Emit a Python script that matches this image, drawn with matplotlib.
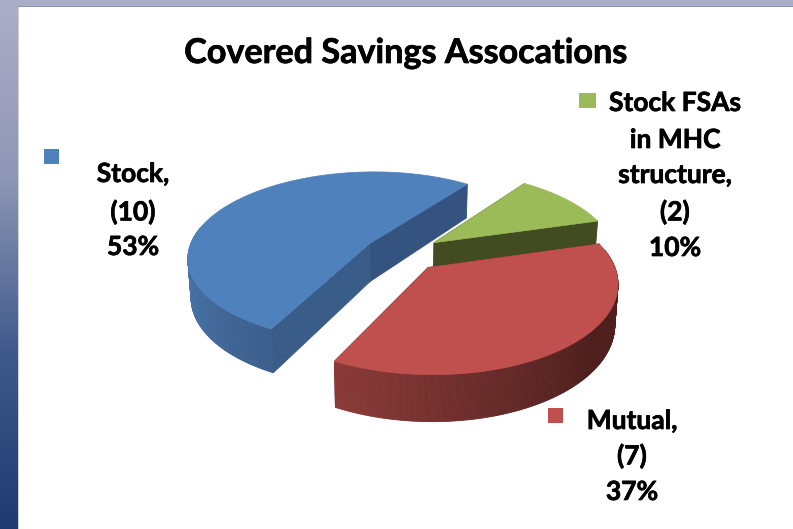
import numpy as np
import matplotlib
matplotlib.use("Agg")
import matplotlib.pyplot as plt
import matplotlib.patheffects as pe
from matplotlib.patches import Polygon, Rectangle
from matplotlib.colors import LinearSegmentedColormap, to_rgb

# ---- data ----
title = "Covered Savings Assocations"
categories = ["Stock", "Mutual", "Stock FSAs\nin MHC\nstructure"]
values = [10, 7, 2]
percents = ["53%", "37%", "10%"]

# ---- style / layout ----
top_colors = ["#4f81bd", "#c0504d", "#9bbb59"]
side_ramps = [
    [(0.0, "#4f80ba"), (1.0, "#3c5e8b")],
    [(0.0, "#8c3b39"), (0.35, "#652a28"), (0.6, "#4e1f1d"), (1.0, "#4e1f1d")],
    [(0.0, "#414d20"), (1.0, "#414d20")],
]
inner_colors = [("#34547f", "#3a5c88"), ("#4e1f1d", "#4e1f1d"), ("#414d20", "#414d20")]
start_angle = 53.8
explode = 0.215
OX, OY, RX, RY, K, DEPTH, TAPER = 402.5, 253.0, 182.0, 85.5, 0.155, 38.5, 0.985

fig = plt.figure(figsize=(7.93, 5.29), dpi=100)
ax = fig.add_axes([0, 0, 1, 1])
ax.axis("off")

# slide background
bg = LinearSegmentedColormap.from_list("bg", ["#abafc7", "#8f97b6", "#3e5a8a", "#1f3a70"])
grad = np.linspace(0, 1, 256).reshape(-1, 1)
ax.imshow(grad, extent=(0, 18, 529, 0), cmap=bg, aspect="auto", zorder=0)
ax.add_patch(Rectangle((0, 0), 793, 6, color="#a9adc5", lw=0, zorder=1))
ax.add_patch(Rectangle((18, 6), 775, 1, color="#8e92a8", lw=0, zorder=1))
ax.add_patch(Rectangle((18, 7), 1.2, 522, color="#cfd0d8", lw=0, zorder=1))
ax.set_xlim(0, 793)
ax.set_ylim(529, 0)


def project(X, Y, low=False):
    s = 1.0 / (1.0 + K * Y)
    x = OX + RX * X * s
    y = OY - RY * Y * s
    if low:
        x = OX + (x - OX) * TAPER
        y = y + DEPTH * s
    return x, y


def ramp_color(ramp, t):
    for (t0, c0), (t1, c1) in zip(ramp, ramp[1:]):
        if t <= t1:
            f = (t - t0) / (t1 - t0)
            return tuple(a + (b - a) * f for a, b in zip(to_rgb(c0), to_rgb(c1)))
    return to_rgb(ramp[-1][1])


def quad(p, color, z):
    ax.add_patch(Polygon(p, closed=True, fc=color, ec=color, lw=0.6, zorder=z))


total = sum(values)
spans = [v / total * 360.0 for v in values]
starts = [start_angle + sum(spans[:i]) for i in range(len(values))]
zorders = {2: 10, 0: 20, 1: 30}

for i in [2, 0, 1]:
    a0, a1 = starts[i], starts[i] + spans[i]
    mid = np.radians((a0 + a1) / 2)
    cx, cy = explode * np.cos(mid), explode * np.sin(mid)
    th = np.radians(np.linspace(a0, a1, 240))
    wx, wy = cx + np.cos(th), cy + np.sin(th)
    z = zorders[i]

    # interior faces
    for k, (ex, ey) in enumerate([(wx[0], wy[0]), (wx[-1], wy[-1])]):
        quad([project(cx, cy), project(ex, ey), project(ex, ey, True), project(cx, cy, True)],
             inner_colors[i][k], z)

    # outer rim
    front = np.where(np.sin(th) < 0.2)[0] if i != 2 else np.array([], dtype=int)
    for n, j in enumerate(front[:-1]):
        t = n / max(len(front) - 2, 1)
        col = ramp_color(side_ramps[i], t)
        quad([project(wx[j], wy[j]), project(wx[j + 1], wy[j + 1]),
              project(wx[j + 1], wy[j + 1], True), project(wx[j], wy[j], True)], col, z + 1)

    # top surface
    pts = [project(cx, cy)] + [project(a, b) for a, b in zip(wx, wy)]
    ax.add_patch(Polygon(pts, closed=True, fc=top_colors[i], ec=top_colors[i], lw=0.5, zorder=z + 2))

# text
FONT = "Lato"
thick = [pe.withStroke(linewidth=0.5, foreground="black")]
ax.text(406, 53, title, ha="center", va="center", fontsize=24.6, fontweight="bold",
        family=FONT, color="black", zorder=50, path_effects=thick)

blocks = [(133, [174, 212, 247]), (632, [421, 456, 492]), (675, [103, 140, 175, 212, 248])]
for (xc, ys), cat, val, pct in zip(blocks, categories, values, percents):
    lines = (cat + ",").split("\n") + [f"({val})", pct]
    for y, line in zip(ys, lines):
        ax.text(xc, y, line, ha="center", va="center", fontsize=19, fontweight="bold",
                family=FONT, color="black", zorder=50, path_effects=thick)

# legend keys
keys = [(44, 149, 15, 15), (548, 408, 15, 15), (579, 93, 17, 15)]
for (x, y, w, h), c in zip(keys, top_colors):
    ax.add_patch(Rectangle((x, y), w, h, color=c, lw=0, zorder=50))

fig.savefig("out.png", dpi=100)
